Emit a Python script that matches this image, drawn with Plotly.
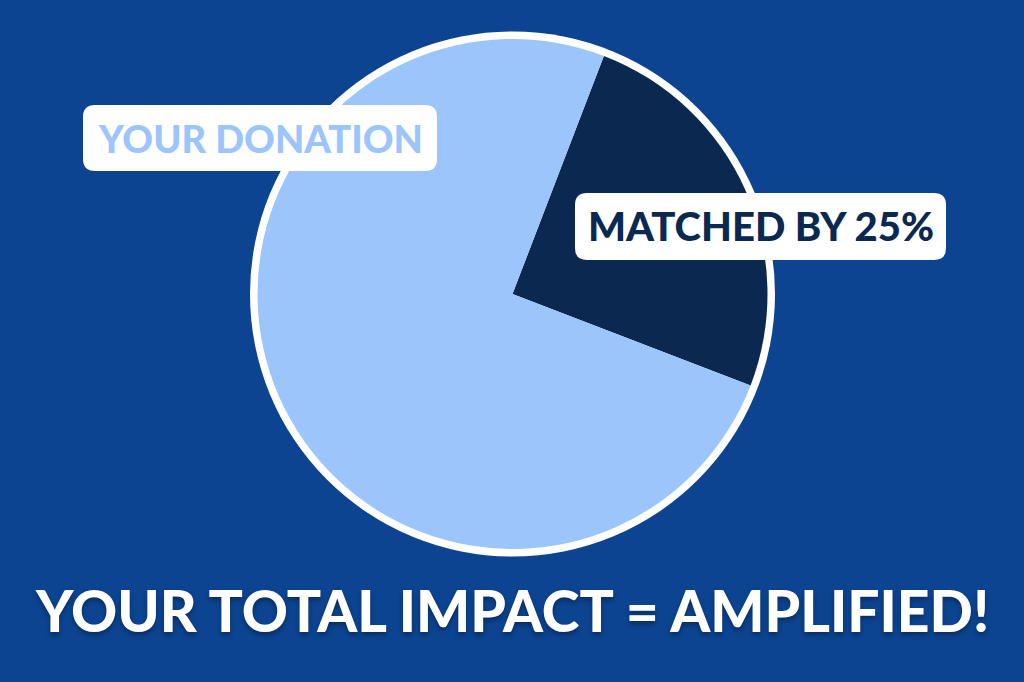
import plotly.graph_objects as go

# Data
slice_labels = ["Matched by 25%", "Your donation"]
slice_values = [25, 75]
slice_colors = ["#0b2850", "#9bc5fb"]
label_texts = ["YOUR DONATION", "MATCHED BY 25%"]
title_text = "YOUR TOTAL IMPACT = AMPLIFIED!"

W, H = 1024, 682
BG = "#0c4491"

def px(x):
    return x / W

def py(y):
    return 1 - y / H

cx, cy, r_in, r_out = 512.5, 294, 255, 262.5

fig = go.Figure()
fig.add_trace(go.Pie(
    labels=slice_labels,
    values=slice_values,
    marker=dict(colors=slice_colors, line=dict(width=0)),
    textinfo="none",
    hoverinfo="label+percent",
    sort=False,
    direction="clockwise",
    rotation=21,
    showlegend=False,
    domain=dict(x=[px(cx - r_in), px(cx + r_in)], y=[py(cy + r_in), py(cy - r_in)]),
))

shapes = [
    dict(type="circle", xref="paper", yref="paper",
         x0=px(cx - r_out), x1=px(cx + r_out), y0=py(cy + r_out), y1=py(cy - r_out),
         fillcolor="white", line=dict(width=0), layer="below"),
]

def rounded_rect(x0, y0, x1, y1, r):
    p = lambda x, y: f"{px(x):.5f},{py(y):.5f}"
    path = (f"M {p(x0 + r, y0)} L {p(x1 - r, y0)} Q {p(x1, y0)} {p(x1, y0 + r)} "
            f"L {p(x1, y1 - r)} Q {p(x1, y1)} {p(x1 - r, y1)} "
            f"L {p(x0 + r, y1)} Q {p(x0, y1)} {p(x0, y1 - r)} "
            f"L {p(x0, y0 + r)} Q {p(x0, y0)} {p(x0 + r, y0)} Z")
    return dict(type="path", xref="paper", yref="paper", path=path,
                fillcolor="white", line=dict(width=0), layer="above")

boxes = [(83, 105, 437, 171), (575, 193, 946, 260)]
for b in boxes:
    shapes.append(rounded_rect(*b, 12))

annotations = [
    dict(text=label_texts[0], x=px((boxes[0][0] + boxes[0][2]) / 2), y=py((boxes[0][1] + boxes[0][3]) / 2),
         xref="paper", yref="paper", showarrow=False, xanchor="center", yanchor="middle",
         font=dict(family="Lato", size=38, color="#9bc5fb", weight=900)),
    dict(text=label_texts[1], x=px((boxes[1][0] + boxes[1][2]) / 2), y=py((boxes[1][1] + boxes[1][3]) / 2),
         xref="paper", yref="paper", showarrow=False, xanchor="center", yanchor="middle",
         font=dict(family="Lato", size=40, color="#0b2850", weight=900)),
    dict(text=title_text, x=0.5, y=py(610), xref="paper", yref="paper", showarrow=False,
         xanchor="center", yanchor="middle",
         font=dict(family="Lato", size=57, color="white", weight=900,
                   shadow="0px 3px 5px rgba(0,0,0,0.35)")),
]

fig.update_layout(
    width=W, height=H,
    margin=dict(l=0, r=0, t=0, b=0),
    paper_bgcolor=BG, plot_bgcolor=BG,
    shapes=shapes,
    annotations=annotations,
)

fig.write_html(
    "out.html",
    config={"displayModeBar": False},
    post_script="document.body.style.margin='0';document.body.style.background='#0c4491';",
)
